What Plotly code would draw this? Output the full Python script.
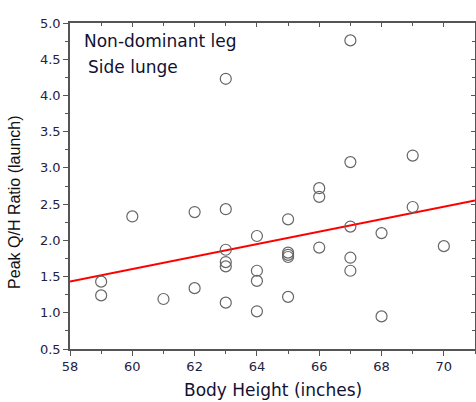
import plotly.graph_objects as go

height = [59, 59, 60, 61, 62, 62, 63, 63, 63, 63, 63, 63, 64, 64, 64, 64,
          65, 65, 65, 65, 65, 66, 66, 66, 67, 67, 67, 67, 67, 68, 68, 69, 69, 70]
ratio = [1.43, 1.24, 2.33, 1.19, 2.39, 1.34, 4.23, 2.43, 1.87, 1.70, 1.64, 1.14,
         2.06, 1.58, 1.44, 1.02, 2.29, 1.83, 1.80, 1.77, 1.22, 2.72, 2.60, 1.90,
         4.76, 3.08, 2.19, 1.76, 1.58, 2.10, 0.95, 3.17, 2.46, 1.92]
fit_x = [58, 71]
fit_y = [1.43, 2.55]
x_ticks = [58, 60, 62, 64, 66, 68, 70]
y_ticks = [0.5, 1.0, 1.5, 2.0, 2.5, 3.0, 3.5, 4.0, 4.5, 5.0]

FONT = "Liberation Sans, Arial, sans-serif"
WIDE = "DejaVu Sans, sans-serif"
AX = "#555555"

fig = go.Figure()
fig.add_trace(go.Scatter(x=fit_x, y=fit_y, mode="lines",
                         line=dict(color="#ff0000", width=2), showlegend=False))
fig.add_trace(go.Scatter(x=height, y=ratio, mode="markers",
                         marker=dict(symbol="circle-open", size=11,
                                     color="#666666", line=dict(width=1.2, color="#666666")),
                         showlegend=False))
# invisible trace for mirrored inside-tick axes
fig.add_trace(go.Scatter(x=fit_x, y=fit_y, mode="markers", xaxis="x2", yaxis="y2",
                         marker=dict(opacity=0), hoverinfo="skip", showlegend=False))

fig.update_layout(
    width=476, height=402,
    margin=dict(l=70, r=1, t=23, b=53),
    paper_bgcolor="white", plot_bgcolor="white",
    font=dict(family=FONT, color="#222222"),
    xaxis=dict(range=[58, 71], tickvals=x_ticks, ticktext=[str(v) for v in x_ticks],
               ticks="outside", ticklen=5, tickwidth=1.2, tickcolor=AX,
               minor=dict(dtick=1, ticks="outside", ticklen=3, tickcolor=AX, tickwidth=1.2),
               showline=True, linecolor=AX, linewidth=1.5, showgrid=False, zeroline=False,
               tickfont=dict(size=13, family=WIDE, color="#222244")),
    yaxis=dict(range=[0.5, 5.0], tickvals=y_ticks, ticktext=["%.1f" % v for v in y_ticks],
               ticks="outside", ticklen=5, tickwidth=1.2, tickcolor=AX,
               minor=dict(dtick=0.25, ticks="outside", ticklen=3, tickcolor=AX, tickwidth=1.2),
               showline=True, linecolor=AX, linewidth=1.5, showgrid=False, zeroline=False,
               tickfont=dict(size=13, family=WIDE, color="#222244")),
    xaxis2=dict(range=[58, 71], overlaying="x", side="top", anchor="y",
                tickvals=x_ticks, showticklabels=False,
                ticks="inside", ticklen=4, tickwidth=1.2, tickcolor=AX,
                minor=dict(dtick=1, ticks="inside", ticklen=3, tickcolor=AX, tickwidth=1.2),
                showline=True, linecolor=AX, linewidth=1.5, showgrid=False, zeroline=False),
    yaxis2=dict(range=[0.5, 5.0], overlaying="y", side="right", anchor="x",
                tickvals=y_ticks, showticklabels=False,
                ticks="inside", ticklen=4, tickwidth=1.2, tickcolor=AX,
                minor=dict(dtick=0.25, ticks="inside", ticklen=3, tickcolor=AX, tickwidth=1.2),
                showline=True, linecolor=AX, linewidth=1.5, showgrid=False, zeroline=False),
    annotations=[
        dict(text="Non-dominant leg", x=0.030, y=0.945, xref="paper", yref="paper",
             xanchor="left", yanchor="middle", showarrow=False,
             font=dict(size=17, family=WIDE, color="#111133")),
        dict(text="Side lunge", x=0.040, y=0.865, xref="paper", yref="paper",
             xanchor="left", yanchor="middle", showarrow=False,
             font=dict(size=17, family=WIDE, color="#111133")),
        dict(text="Body Height (inches)", x=0.501, y=-0.126, xref="paper", yref="paper",
             xanchor="center", yanchor="middle", showarrow=False,
             font=dict(size=17, family=WIDE, color="#111133")),
        dict(text="Peak Q/H Ratio (launch)", x=-0.136, y=0.451, xref="paper", yref="paper",
             xanchor="center", yanchor="middle", showarrow=False, textangle=-90,
             font=dict(size=16, family=FONT, color="#111111")),
    ],
)

fig.write_html("out.html")
